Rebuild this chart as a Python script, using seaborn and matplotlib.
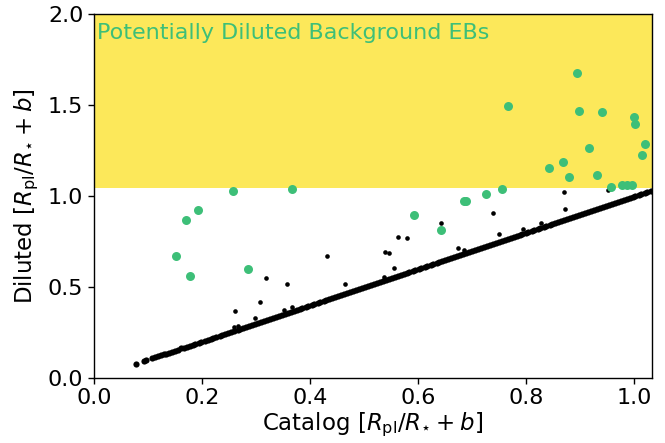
import matplotlib
matplotlib.use("Agg")
import matplotlib.pyplot as plt
import seaborn as sns
import pandas as pd

# Targets whose diluted size equals the catalog size (they sit on the 1:1 line)
line_catalog = [
    0.078, 0.092, 0.097, 0.108, 0.113, 0.118, 0.124, 0.129, 0.134, 0.139, 0.145, 0.150,
    0.156, 0.162, 0.166, 0.172, 0.178, 0.183, 0.188, 0.194, 0.199, 0.205, 0.211, 0.216,
    0.221, 0.227, 0.233, 0.238, 0.243, 0.249, 0.254, 0.260, 0.266, 0.271, 0.276, 0.282,
    0.287, 0.293, 0.298, 0.304, 0.309, 0.315, 0.320, 0.326, 0.331, 0.337, 0.342, 0.348,
    0.353, 0.359, 0.364, 0.370, 0.375, 0.381, 0.386, 0.392, 0.397, 0.403, 0.408, 0.414,
    0.419, 0.425, 0.430, 0.436, 0.441, 0.447, 0.452, 0.458, 0.463, 0.469, 0.474, 0.480,
    0.485, 0.491, 0.496, 0.502, 0.507, 0.513, 0.518, 0.524, 0.529, 0.535, 0.540, 0.546,
    0.551, 0.557, 0.562, 0.568, 0.573, 0.579, 0.584, 0.590, 0.595, 0.601, 0.606, 0.612,
    0.617, 0.623, 0.628, 0.634, 0.639, 0.645, 0.650, 0.656, 0.661, 0.667, 0.672, 0.678,
    0.683, 0.689, 0.694, 0.700, 0.705, 0.711, 0.716, 0.722, 0.727, 0.733, 0.738, 0.744,
    0.749, 0.755, 0.760, 0.766, 0.771, 0.777, 0.782, 0.788, 0.793, 0.799, 0.804, 0.810,
    0.815, 0.821, 0.826, 0.832, 0.837, 0.843, 0.848, 0.854, 0.859, 0.865, 0.870, 0.876,
    0.881, 0.887, 0.892, 0.898, 0.903, 0.909, 0.914, 0.920, 0.925, 0.931, 0.936, 0.942,
    0.947, 0.953, 0.958, 0.964, 0.969, 0.975, 0.980, 0.986, 0.991, 0.997, 1.002, 1.008,
    1.013, 1.019, 1.024, 1.030,
]
line_diluted = line_catalog  # undiluted: same value on both axes

# Mildly diluted targets below the threshold
black_catalog = [0.259, 0.267, 0.261, 0.299, 0.308, 0.318, 0.352, 0.358, 0.366, 0.432,
                 0.465, 0.536, 0.539, 0.547, 0.555, 0.562, 0.580, 0.642, 0.673, 0.684,
                 0.738, 0.749, 0.794, 0.828, 0.869, 0.871, 0.952]
black_diluted = [0.281, 0.285, 0.367, 0.330, 0.418, 0.547, 0.372, 0.516, 0.389, 0.670,
                 0.514, 0.554, 0.692, 0.686, 0.602, 0.774, 0.769, 0.853, 0.714, 0.705,
                 0.908, 0.789, 0.820, 0.850, 1.024, 0.927, 1.035]

# Strongly diluted targets
green_catalog = [0.153, 0.171, 0.178, 0.192, 0.257, 0.285, 0.367, 0.593, 0.642, 0.684,
                 0.689, 0.725, 0.756, 0.766, 0.842, 0.868, 0.879, 0.894, 0.897, 0.916,
                 0.930, 0.940, 0.956, 0.977, 0.986, 0.996, 0.999, 1.001, 1.014, 1.019]
green_diluted = [0.670, 0.870, 0.560, 0.921, 1.029, 0.600, 1.040, 0.895, 0.813, 0.975,
                 0.970, 1.013, 1.040, 1.495, 1.152, 1.189, 1.106, 1.677, 1.470, 1.266,
                 1.114, 1.464, 1.050, 1.062, 1.062, 1.062, 1.437, 1.398, 1.224, 1.286]

threshold = 1.045
region_label = "Potentially Diluted Background EBs"

green = "#3dbf78"
yellow = "#fce85a"

sns.set_style("ticks")
plt.rcParams["font.family"] = ["DejaVu Sans"]
plt.rcParams["mathtext.fontset"] = "dejavusans"
plt.rcParams["text.color"] = "black"
plt.rcParams["axes.labelcolor"] = "black"
plt.rcParams["xtick.color"] = "black"
plt.rcParams["ytick.color"] = "black"

fig = plt.figure(figsize=(6.65, 4.43), dpi=100)
ax = fig.add_axes([0.141, 0.147, 0.839, 0.821])

ax.axhspan(threshold, 2.0, color=yellow, lw=0, zorder=0)

df_line = pd.DataFrame({"catalog": line_catalog, "diluted": line_diluted})
df_black = pd.DataFrame({"catalog": black_catalog, "diluted": black_diluted})
df_green = pd.DataFrame({"catalog": green_catalog, "diluted": green_diluted})

sns.scatterplot(data=df_line, x="catalog", y="diluted", ax=ax, color="black",
                s=20, linewidth=0, zorder=2)
sns.scatterplot(data=df_black, x="catalog", y="diluted", ax=ax, color="black",
                s=11, linewidth=0, zorder=2)
sns.scatterplot(data=df_green, x="catalog", y="diluted", ax=ax, color=green,
                s=42, linewidth=0, zorder=3)

ax.text(0.006, 1.895, region_label, color=green, fontsize=16, va="center", ha="left")

ax.set_xlim(0, 1.032)
ax.set_ylim(0, 2.0)
ax.set_xticks([0.0, 0.2, 0.4, 0.6, 0.8, 1.0])
ax.set_yticks([0.0, 0.5, 1.0, 1.5, 2.0])
ax.tick_params(labelsize=16, direction="out", length=4, width=1, color="black",
               labelcolor="black")
ax.set_xlabel(r"Catalog [$R_{\rm pl}/R_{\star}+b$]", fontsize=16.5, labelpad=2)
ax.set_ylabel(r"Diluted [$R_{\rm pl}/R_{\star}+b$]", fontsize=16.5, labelpad=5)
for sp in ax.spines.values():
    sp.set_visible(True)
    sp.set_color("black")
    sp.set_linewidth(1.0)

fig.savefig("out.png", dpi=100)
